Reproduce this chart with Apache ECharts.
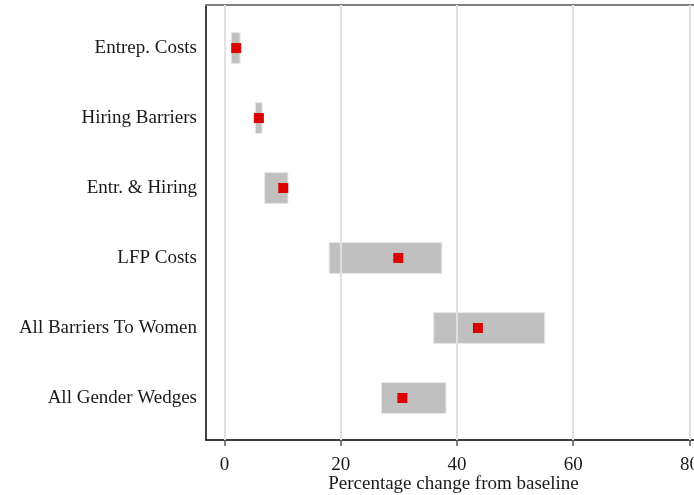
<!DOCTYPE html>
<html>
<head>
<meta charset="utf-8">
<script src="https://cdn.jsdelivr.net/npm/echarts@6/dist/echarts.min.js"></script>
<style>html,body{margin:0;padding:0;background:#fff;}#c{width:694px;height:495px;}</style>
</head>
<body>
<div id="c"></div>
<script>
var categories = ['Entrep. Costs','Hiring Barriers','Entr. & Hiring','LFP Costs','All Barriers To Women','All Gender Wedges'];
var rangeLow  = [1.15, 5.3, 6.9, 18.0, 36.0, 27.0];
var rangeHigh = [2.65, 6.45, 10.9, 37.4, 55.1, 38.1];
var pointValues = [2.0, 5.9, 10.1, 29.9, 43.6, 30.6];
var xTicks = [0, 20, 40, 60, 80];
var xTitle = 'Percentage change from baseline';

var rowPos = categories.map(function(c,i){return i+1;});
var rangeData = categories.map(function(c,i){return [rangeLow[i], rangeHigh[i], rowPos[i]];});
var pointData = categories.map(function(c,i){return [pointValues[i], rowPos[i]];});

var chart = echarts.init(document.getElementById('c'), null, {renderer:'canvas'});
var serif = '"Liberation Serif","Times New Roman",serif';
chart.setOption({
  animation:false,
  backgroundColor:'#fff',
  grid:{left:206, top:5, height:435, width:495, containLabel:false, outerBoundsMode:'none'},
  xAxis:[{
    type:'value', position:'bottom', min:-3.2, max:82,
    axisLine:{show:true, onZero:false, lineStyle:{color:'#000', width:1.5}},
    axisTick:{show:true, customValues:xTicks, length:6, lineStyle:{color:'#555', width:1.5}},
    axisLabel:{customValues:xTicks, margin:16, fontFamily:serif, fontSize:19, color:'#1a1a1a'},
    splitLine:{show:false},
    name:xTitle, nameLocation:'middle', nameGap:35, nameMoveOverlap:false,
    nameTextStyle:{fontFamily:serif, fontSize:19, color:'#1a1a1a'}
  },{
    type:'value', position:'top', min:-3.2, max:82,
    axisLine:{show:true, onZero:false, lineStyle:{color:'#808080', width:2}},
    axisTick:{show:false}, axisLabel:{show:false}, splitLine:{show:false}
  }],
  yAxis:{
    type:'value', inverse:true, min:0.385, max:6.6,
    axisLine:{show:true, onZero:false, lineStyle:{color:'#000', width:1.5}},
    axisTick:{show:false},
    axisLabel:{customValues:rowPos, margin:9, fontFamily:serif, fontSize:19, color:'#1a1a1a',
      padding:[3,0,0,0],
      formatter:function(v){return categories[Math.round(v)-1] || '';}},
    splitLine:{show:false}
  },
  series:[{
    type:'line', data:[], silent:true,
    markLine:{silent:true, symbol:'none', label:{show:false},
      lineStyle:{color:'#e0e0e0', width:2, type:'solid'},
      data:xTicks.map(function(t){return {xAxis:t};})}
  },{
    type:'custom', silent:true,
    renderItem:function(params, api){
      var lo = api.coord([api.value(0), api.value(2)]);
      var hi = api.coord([api.value(1), api.value(2)]);
      var h = api.size([0, 0.44])[1];
      return {type:'rect', shape:{x:lo[0], y:lo[1]-h/2, width:hi[0]-lo[0], height:h},
        style:{fill:'#c0c0c0', stroke:'#e6e6e6', lineWidth:1}};
    },
    encode:{x:[0,1], y:2},
    data:rangeData, z:3
  },{
    type:'scatter', symbol:'rect', symbolSize:10, silent:true,
    itemStyle:{color:'#dd0000', opacity:1},
    data:pointData, z:4
  }]
});
</script>
</body>
</html>
